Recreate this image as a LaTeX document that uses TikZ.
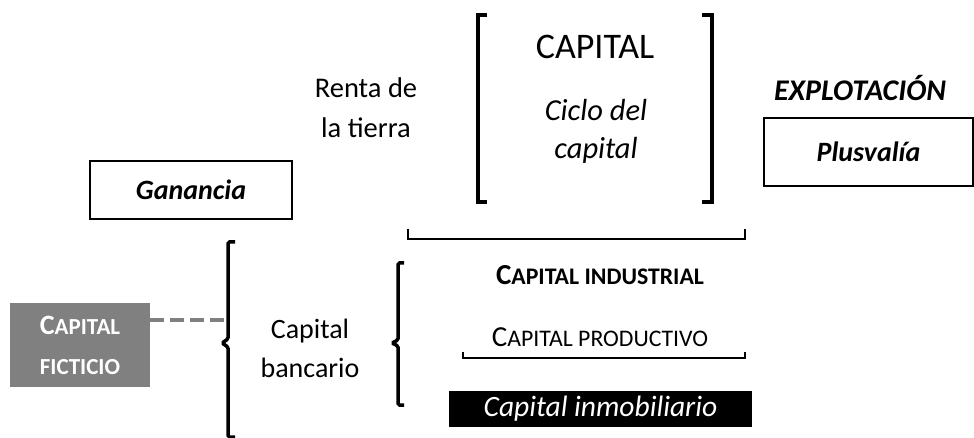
\documentclass[tikz,border=0pt]{standalone}
\usepackage{fontspec}
\setmainfont{Carlito}
\usetikzlibrary{calc}
\newcommand{\fsc}[2]{#1\scalebox{0.82}{#2}}

\begin{document}
\begin{tikzpicture}[x=1pt,y=-1pt,
        txt/.style={font=\fontsize{28}{39}\selectfont, align=center, inner sep=0pt},
        framebox/.style={draw, line width=1.2pt, inner sep=0pt, font=\fontsize{28}{32}\selectfont\bfseries\itshape},
        sqbr/.style={line width=4pt},
        crbr/.style={line width=3.5pt, rounded corners=1.5pt},
        thinbr/.style={line width=1.3pt},
        dashline/.style={draw=gray, line width=3.5pt, dash pattern=on 14pt off 6pt}]
    \useasboundingbox (0,0) rectangle (974,438);

    % textos de arriba
    \node[txt, font=\fontsize{36}{40}\selectfont] (capital) at (595,47) {CAPITAL};
    \node[txt, font=\fontsize{30.5}{38}\selectfont\itshape] (ciclo) at (596,131) {Ciclo del\\capital};
    \node[txt, font=\fontsize{28.5}{40}\selectfont] (renta) at (366,108) {Renta de\\la tierra};
    \node[txt, font=\fontsize{30}{32}\selectfont\bfseries\itshape] (explot) at (860,88) {EXPLOTACIÓN};

    % cajas
    \node[framebox, minimum width=202, minimum height=58] (ganancia) at (191,190) {Ganancia\hspace{20pt}};
    \node[framebox, minimum width=209, minimum height=68] (plusvalia) at (868.5,152) {Plusvalía};
    \node[txt, fill=gray, text=white, font=\fontsize{28}{40}\selectfont\bfseries, minimum width=140, minimum height=84] (ficticio) at (80,345) {\fsc{C}{APITAL}\\\scalebox{0.82}{FICTICIO}};
    \node[txt, fill=black, text=white, font=\fontsize{29.5}{32}\selectfont\itshape, minimum width=303, minimum height=36] (inmob) at (600.5,409) {Capital inmobiliario};

    % textos de abajo
    \node[txt, font=\fontsize{29}{32}\selectfont\bfseries] (industrial) at (600,275) {\fsc{C}{APITAL INDUSTRIAL}};
    \node[txt, font=\fontsize{29}{32}\selectfont] (productivo) at (600,337) {\fsc{C}{APITAL PRODUCTIVO}};
    \node[txt] (bancario) at (310,348) {Capital\\bancario};

    % corchetes
    \draw[sqbr] (487,15) -- (478,15) -- (478,202) -- (487,202);
    \draw[sqbr] (702,15) -- (712,15) -- (712,202) -- (702,202);
    \draw[thinbr] (408,229) -- (408,239) -- (745,239) -- (745,229);
    \draw[thinbr] (463,352) -- (463,358) -- (745,358) -- (745,352);
    \draw[crbr] (235,242) -- (228,242) -- (228,339) -- (222,343) -- (228,347) -- (228,437) -- (235,437);
    \draw[crbr] (404,263) -- (398,263) -- (398,340) -- (392,343) -- (398,346) -- (398,405) -- (404,405);

    \coordinate (dashend) at (228,320);
    \draw[dashline] (ficticio.east |- dashend) -- (dashend);
\end{tikzpicture}
\end{document}
